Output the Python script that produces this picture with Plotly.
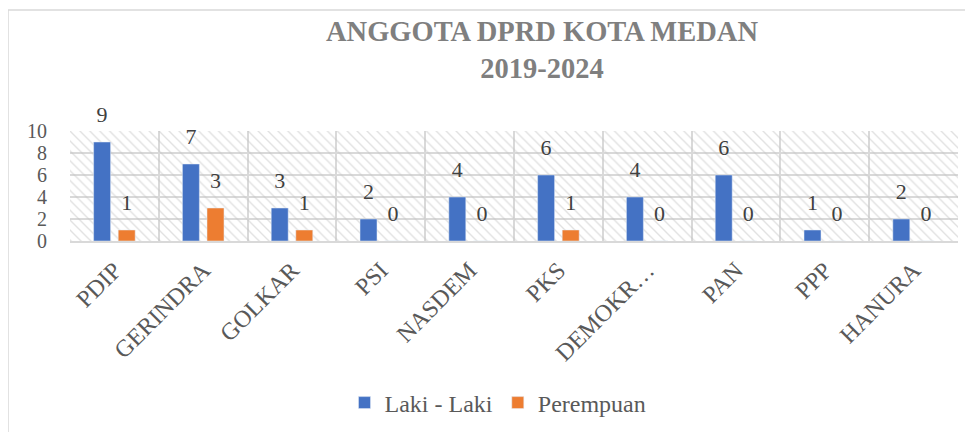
import plotly.graph_objects as go

parties = ["PDIP", "GERINDRA", "GOLKAR", "PSI", "NASDEM", "PKS", "DEMOKR…", "PAN", "PPP", "HANURA"]
laki = [9, 7, 3, 2, 4, 6, 4, 6, 1, 2]
perempuan = [1, 3, 1, 0, 0, 1, 0, 0, 0, 0]
series_names = ["Laki - Laki", "Perempuan"]
colors = ["#4472C4", "#ED7D31"]
title_lines = ["ANGGOTA DPRD KOTA MEDAN", "2019-2024"]

FONT = "Liberation Serif, Times New Roman, serif"
TXT = "#595959"
GRID = "#d9d9d9"

W, H = 965, 424          # page body has an 8px margin
L, R, T, B = 62, 15, 123, 191
PW, PH = W - L - R, H - T - B
GAP = 0.446

fig = go.Figure()

# hatched plot-area background (on base axis, below bars)
fig.add_trace(go.Bar(
    x=[len(parties) / 2], y=[10], width=[len(parties)],
    xaxis="x", yaxis="y",
    marker=dict(color="rgba(255,255,255,0)", line=dict(width=0),
                pattern=dict(shape="\\", fgcolor="#c4c4c4", bgcolor="rgba(255,255,255,0)",
                             size=7, solidity=0.2)),
    showlegend=False, hoverinfo="skip",
))

for i, (name, vals) in enumerate(zip(series_names, [laki, perempuan])):
    fig.add_trace(go.Bar(
        x=parties, y=vals, name=name, xaxis="x2", yaxis="y",
        marker=dict(color=colors[i]), offsetgroup=str(i),
    ))
for i, (name, vals) in enumerate(zip(series_names, [laki, perempuan])):
    fig.add_trace(go.Scatter(
        x=parties, y=vals, xaxis="x2", yaxis="y", mode="markers+text",
        marker=dict(size=22, color="rgba(0,0,0,0)"),
        text=[str(v) for v in vals], textposition="top center", cliponaxis=False,
        textfont=dict(family=FONT, size=22, color="#404040"),
        offsetgroup=str(i), showlegend=False, hoverinfo="skip",
    ))

fig.update_layout(
    width=W, height=H,
    margin=dict(l=L, r=R, t=T, b=B, autoexpand=False),
    paper_bgcolor="white", plot_bgcolor="white",
    font=dict(family=FONT, color=TXT, size=21),
    barmode="group", bargap=GAP, bargroupgap=0.31,
    scattermode="group", scattergap=GAP,
    title=dict(text="<b>" + "<br>".join(title_lines) + "</b>",
               x=534 / W, xanchor="center", y=1 - 33 / H, yanchor="middle",
               font=dict(family=FONT, size=28.5, color="#7f7f7f")),
    xaxis=dict(range=[0, len(parties)], dtick=1, tick0=0, showgrid=True, gridcolor=GRID,
               gridwidth=1.5, showticklabels=False, zeroline=False, showline=False,
               fixedrange=True, automargin=False),
    xaxis2=dict(overlaying="x", type="category", range=[-0.5, len(parties) - 0.5],
                showgrid=False, tickangle=-45, tickfont=dict(family=FONT, size=24, color=TXT),
                showline=True, linecolor=GRID, linewidth=1.5, ticks="", anchor="y",
                side="bottom", automargin=False, ticklabelstandoff=4),
    yaxis=dict(range=[0, 10], dtick=2, showgrid=True, gridcolor=GRID, gridwidth=1.5,
               zeroline=False, showline=False, automargin=False,
               ticks="outside", ticklen=18, tickcolor="rgba(0,0,0,0)",
               tickfont=dict(family=FONT, size=20, color=TXT)),
    legend=dict(orientation="h", x=490 / W, xanchor="center", xref="container",
                y=(H - 395) / H, yref="container", yanchor="middle",
                font=dict(family=FONT, size=24, color=TXT), traceorder="normal",
                itemwidth=30),
    shapes=[dict(type="rect", xref="paper", yref="paper",
                 x0=-L / PW, x1=1 + 40 / PW, y0=-(B + 20) / PH, y1=1 + (T - 2) / PH,
                 line=dict(color="#d9d9d9", width=1.5), fillcolor="rgba(0,0,0,0)", layer="below")],
)

fig.write_html("out.html")
